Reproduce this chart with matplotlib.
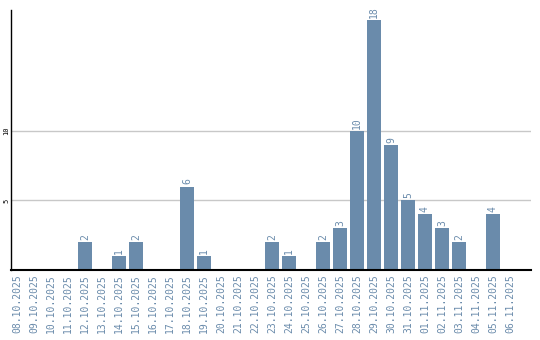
import matplotlib
matplotlib.use("Agg")
import matplotlib.pyplot as plt

dates = ["08.10.2025", "09.10.2025", "10.10.2025", "11.10.2025", "12.10.2025",
         "13.10.2025", "14.10.2025", "15.10.2025", "16.10.2025", "17.10.2025",
         "18.10.2025", "19.10.2025", "20.10.2025", "21.10.2025", "22.10.2025",
         "23.10.2025", "24.10.2025", "25.10.2025", "26.10.2025", "27.10.2025",
         "28.10.2025", "29.10.2025", "30.10.2025", "31.10.2025", "01.11.2025",
         "02.11.2025", "03.11.2025", "04.11.2025", "05.11.2025", "06.11.2025"]
counts = [0, 0, 0, 0, 2, 0, 1, 2, 0, 0, 6, 1, 0, 0, 0,
          2, 1, 0, 2, 3, 10, 18, 9, 5, 4, 3, 2, 0, 4, 0]

bar_color = "#6a8bab"
text_color = "#6a8bab"

fig = plt.figure(figsize=(5.4, 3.4), dpi=100)
ax = fig.add_axes([0.0204, 0.2059, 0.963, 0.7647])

x = list(range(len(dates)))
ax.bar(x, counts, width=0.82, color=bar_color, zorder=2)

for xi, c in zip(x, counts):
    if c > 0:
        ax.text(xi, c + 0.15, str(c), rotation=90, ha="center", va="bottom",
                color=text_color, fontsize=7, family="DejaVu Sans Mono")

ax.set_xlim(-0.353, 30.24)
ax.set_ylim(0, 18.7)
ax.set_xticks(x)
ax.set_xticklabels(dates, rotation=90, color=text_color, fontsize=7,
                   family="DejaVu Sans Mono")
ax.set_yticks([5, 10])
ax.set_yticklabels(["5", "10"], rotation=90, fontsize=5, va="center",
                   family="DejaVu Sans Mono")
ax.tick_params(axis="x", length=0, pad=3)
ax.tick_params(axis="y", length=0, pad=1)
ax.yaxis.grid(True, color="#c8c8c8", linewidth=1, zorder=0)
ax.set_axisbelow(True)

ax.spines["top"].set_visible(False)
ax.spines["right"].set_visible(False)
ax.spines["left"].set_linewidth(1)
ax.spines["bottom"].set_linewidth(1.5)

fig.savefig("out.png", dpi=100)
